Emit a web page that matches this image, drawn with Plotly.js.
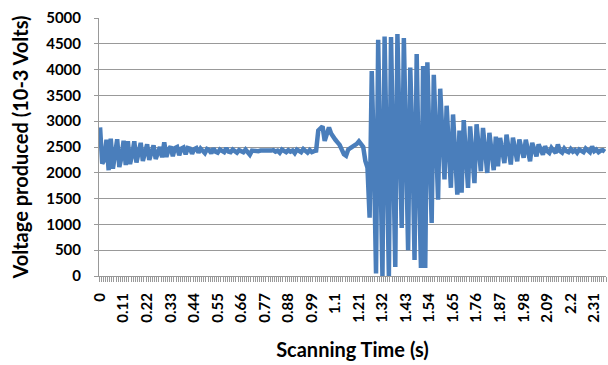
<!DOCTYPE html>
<html>
<head>
<meta charset="utf-8">
<script src="https://cdn.plot.ly/plotly-3.0.1.min.js"></script>
<style>
  html, body { margin: 0; padding: 0; background: #ffffff; }
  #chart { width: 608px; height: 365px; }
</style>
</head>
<body>
<div id="chart"></div>
<script>
// Voltage produced (10^-3 V), one reading every 0.01 s, starting at 0 s
const voltage = [
  2880, 2180, 2250, 2640, 2050, 2660, 2080, 2330, 2650, 2110,
  2300, 2620, 2150, 2610, 2170, 2350, 2610, 2200, 2400, 2580,
  2230, 2360, 2550, 2250, 2420, 2530, 2270, 2380, 2500, 2300,
  2590, 2310, 2450, 2510, 2320, 2480, 2500, 2340, 2470, 2490,
  2360, 2480, 2470, 2370, 2460, 2480, 2390, 2470, 2420, 2380,
  2460, 2440, 2380, 2470, 2410, 2390, 2450, 2430, 2400, 2480,
  2410, 2400, 2450, 2420, 2390, 2440, 2430, 2400, 2450, 2380,
  2350, 2430, 2420, 2430, 2420, 2430, 2420, 2430, 2430, 2420,
  2430, 2440, 2410, 2430, 2390, 2450, 2420, 2400, 2440, 2410,
  2430, 2380, 2450, 2420, 2400, 2460, 2410, 2390, 2440, 2400,
  2420, 2430, 2820, 2860, 2900, 2620, 2780, 2880, 2760, 2680,
  2640, 2590, 2540, 2450, 2360, 2330, 2450, 2480, 2500, 2520,
  2560, 2610, 2560, 2500, 2230, 2100, 1130, 3970, 2300, 50,
  4580, 2000, 0, 4640, 2500, 0, 4630, 1800, 175, 4690,
  2400, 930, 4610, 2200, 500, 4040, 2600, 310, 4300, 2000,
  155, 4070, 155, 4140, 2500, 1030, 3900, 2300, 1480, 3630,
  2600, 1870, 3300, 2400, 1710, 3130, 2300, 1575, 2820, 1614,
  3020, 2400, 1706, 2900, 2300, 1800, 2940, 2400, 2030, 2870,
  2300, 1997, 2775, 2400, 2050, 2700, 2126, 2677, 2400, 2190,
  2740, 2400, 2160, 2680, 2450, 2223, 2645, 2420, 2290, 2640,
  2420, 2223, 2580, 2430, 2320, 2550, 2420, 2353, 2515, 2420,
  2386, 2483, 2430, 2386, 2548, 2420, 2390, 2470, 2420, 2400,
  2460, 2410, 2440, 2390, 2450, 2420, 2400, 2470, 2420, 2400,
  2510, 2420, 2450, 2400, 2430, 2440, 2410
];
const timeStep = 0.01;   // seconds between readings (category axis)
const time = voltage.map((_, i) => +(i * timeStep).toFixed(2));

const xTickLabels = ['0','0.11','0.22','0.33','0.44','0.55','0.66','0.77','0.88','0.99',
  '1.1','1.21','1.32','1.43','1.54','1.65','1.76','1.87','1.98','2.09','2.2','2.31'];
const yTickVals = [0,500,1000,1500,2000,2500,3000,3500,4000,4500,5000];

const fontFam = 'Lato, "Open Sans", sans-serif';
const gray = '#999999';

const trace = {
  x: time,
  y: voltage,
  type: 'scatter',
  mode: 'lines',
  line: { color: '#4a7ebb', width: 4.5 },
  hoverinfo: 'x+y'
};

const layout = {
  width: 608,
  height: 365,
  margin: { l: 99, r: 2, t: 18, b: 89 },
  paper_bgcolor: '#ffffff',
  plot_bgcolor: '#ffffff',
  showlegend: false,
  font: { family: fontFam, color: '#000000' },
  xaxis: {
    range: [-0.005, time[time.length - 1] + 0.005],
    tickmode: 'array',
    tickvals: xTickLabels.map(Number),
    ticktext: xTickLabels.map(s => '<b>' + s + '</b>'),
    tickangle: -90,
    ticks: '',
    ticklabelstandoff: 10,
    tickfont: { family: fontFam, size: 15, color: '#000000' },
    showgrid: false,
    zeroline: false,
    showline: true,
    linecolor: gray,
    linewidth: 1,
    minor: { ticks: 'outside', ticklen: 5, tickcolor: gray, tickwidth: 1,
             tickmode: 'linear', tick0: 0.005, dtick: 0.01, showgrid: false },
    title: { text: '<b>Scanning Time (s)</b>', font: { family: fontFam, size: 20, color: '#000000' }, standoff: 21 }
  },
  yaxis: {
    range: [0, 5000],
    tickmode: 'array',
    tickvals: yTickVals,
    ticktext: yTickVals.map(v => '<b>' + v + '</b>'),
    ticks: 'outside',
    ticklen: 4,
    tickcolor: gray,
    ticklabelstandoff: 10,
    tickfont: { family: fontFam, size: 15, color: '#000000' },
    showgrid: true,
    gridcolor: gray,
    gridwidth: 1,
    zeroline: false,
    showline: true,
    linecolor: gray,
    linewidth: 1,
    title: { text: '<b>Voltage produced (10-3 Volts)</b>', font: { family: fontFam, size: 20, color: '#000000' }, standoff: 12 }
  }
};

Plotly.newPlot('chart', [trace], layout, { displayModeBar: false, staticPlot: true });
</script>
</body>
</html>
